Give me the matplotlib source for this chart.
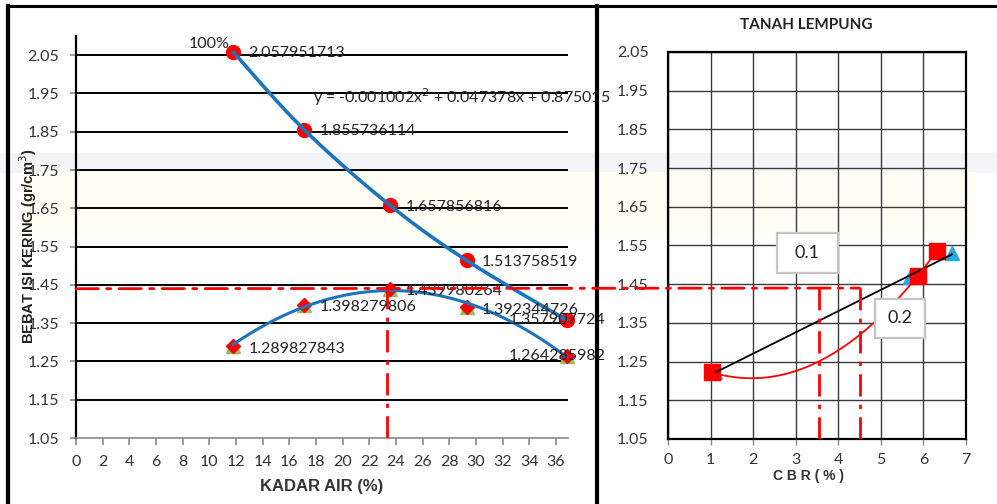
import numpy as np
import matplotlib
matplotlib.use("Agg")
import matplotlib.pyplot as plt
from matplotlib.patches import Rectangle, ConnectionPatch
from matplotlib.lines import Line2D

plt.rcParams['font.family'] = ['Lato', 'DejaVu Sans']

# ---------------- data ----------------
kadar_air = [11.8, 17.1, 23.55, 29.3, 36.8]
zav_100 = [2.057951713, 1.855736114, 1.657856816, 1.513758519, 1.357907724]
zav_labels = ["2.057951713", "1.855736114", "1.657856816", "1.513758519", "1.357907724"]
berat_isi = [1.289827843, 1.398279806, 1.439980264, 1.392344726, 1.264285982]
berat_labels = ["1.289827843", "1.398279806", "1.439980264", "1.392344726", "1.264285982"]
poly_coef = [-0.001002, 0.047378, 0.875015]
equation = "y = -0.001002x$^2$ + 0.047378x + 0.875015"

gamma_max = 1.44
w_opt = 23.3

cbr_01_x = [1.1, 5.68, 6.67]
cbr_01_y = [1.222, 1.469, 1.53]
cbr_02_x = [1.03, 5.87, 6.31]
cbr_02_y = [1.222, 1.472, 1.535]
cbr_read = [3.55, 4.5]

yticks = [1.05, 1.15, 1.25, 1.35, 1.45, 1.55, 1.65, 1.75, 1.85, 1.95, 2.05]
xticks_left = list(range(0, 37, 2))
xticks_right = list(range(0, 8))

W, H = 997, 504
fig = plt.figure(figsize=(W / 100, H / 100), dpi=100)

def fx(px):
    return px / W

def fy(py):
    return 1 - py / H

# faint watermark-like background bands
fig.patches.append(Rectangle((0, fy(172)), 1, (172 - 153) / H, transform=fig.transFigure,
                             color='#f5f5f7', zorder=-10))
fig.patches.append(Rectangle((fx(22), fy(232)), fx(975 - 22), (232 - 172) / H,
                             transform=fig.transFigure, color='#fffef5', zorder=-10))

# ---------------- left axes ----------------
ax1 = fig.add_axes([fx(76), fy(438), fx(568 - 76), (438 - 36) / H])
ax1.set_facecolor('none')
ax1.set_xlim(0, 36.9)
ax1.set_ylim(1.05, 2.10)
ax1.set_yticks(yticks)
ax1.set_yticklabels([f"{v:.2f}" for v in yticks])
ax1.set_xticks(xticks_left)
for y in yticks[1:]:
    ax1.axhline(y, color='black', lw=1.4, zorder=1)
ax1.spines['top'].set_visible(False)
ax1.spines['right'].set_visible(False)
ax1.spines['left'].set_color('black')
ax1.spines['left'].set_linewidth(1.6)
ax1.spines['bottom'].set_color('#8a8a8a')
ax1.spines['bottom'].set_linewidth(1.2)
ax1.tick_params(axis='x', colors='#8a8a8a', length=5, width=1.2, labelsize=11.5,
                labelcolor='#333333', pad=7)
ax1.tick_params(axis='y', colors='#8a8a8a', length=4, width=1.2, labelsize=11.5,
                labelcolor='#333333', pad=8)

# smoothed line (Catmull-Rom like Excel)
def smooth(xs, ys, n=30):
    P = np.column_stack([xs, ys]).astype(float)
    P = np.vstack([P[0], P, P[-1]])
    out = []
    for i in range(1, len(P) - 2):
        p0, p1, p2, p3 = P[i - 1], P[i], P[i + 1], P[i + 2]
        c1 = p1 + (p2 - p0) / 6
        c2 = p2 - (p3 - p1) / 6
        t = np.linspace(0, 1, n)[:, None]
        seg = (1 - t) ** 3 * p1 + 3 * (1 - t) ** 2 * t * c1 + 3 * (1 - t) * t ** 2 * c2 + t ** 3 * p2
        out.append(seg)
    out = np.vstack(out)
    return out[:, 0], out[:, 1]

sx, sy = smooth(kadar_air, zav_100)
ax1.plot(sx, sy, color='#1c75bc', lw=2.6, zorder=4, solid_capstyle='round', clip_on=False)
ax1.plot(kadar_air, zav_100, 'o', color='#ff0000', ms=10, zorder=3, clip_on=False)

xp = np.linspace(min(kadar_air), max(kadar_air), 200)
ax1.plot(xp, np.polyval(poly_coef, xp), color='#1c75bc', lw=2.2, zorder=4, clip_on=False)
ax1.plot(kadar_air, berat_isi, '^', color='#9bbb59', ms=10, zorder=3, clip_on=False)
ax1.plot(kadar_air, berat_isi, 'D', color='#ff0000', ms=7, zorder=3, clip_on=False)

lbl_font = dict(fontsize=11.5, color='#222222', va='center', zorder=6)
for i, (x, y, t) in enumerate(zip(kadar_air, zav_100, zav_labels)):
    if i == len(kadar_air) - 1:
        ax1.annotate(t, (x, y), xytext=(28, 0), textcoords='offset points', ha='right', **lbl_font)
    else:
        ax1.annotate(t, (x, y), xytext=(11, -1), textcoords='offset points', ha='left', **lbl_font)
for i, (x, y, t) in enumerate(zip(kadar_air, berat_isi, berat_labels)):
    if i == len(kadar_air) - 1:
        ax1.annotate(t, (x, y), xytext=(28, 0), textcoords='offset points', ha='right', **lbl_font)
    else:
        ax1.annotate(t, (x, y), xytext=(11, -2), textcoords='offset points', ha='left', **lbl_font)
ax1.annotate("100%", (kadar_air[0], zav_100[0]), xytext=(-3, 6), textcoords='offset points',
             ha='right', va='center', fontsize=11.5, color='#222222')
ax1.text(17.8, 1.94, equation, fontsize=11.5, color='#222222', va='center', ha='left', zorder=6)

# red guide lines
red_kw = dict(color='#ff0000', lw=2.0, linestyle=(0, (8, 3, 1.5, 3)))
ax1.plot([w_opt, w_opt], [1.05, gamma_max], zorder=5, **red_kw)

# ---------------- right axes ----------------
ax2 = fig.add_axes([fx(668), fy(439), fx(966 - 668), (439 - 52) / H])
ax2.set_facecolor('none')
ax2.set_xlim(0, 7)
ax2.set_ylim(1.05, 2.05)
ax2.set_xticks(xticks_right)
ax2.set_yticks(yticks)
ax2.set_yticklabels([f"{v:.2f}" for v in yticks])
ax2.grid(True, color='#3a3a3a', lw=1.0, zorder=0)
for s in ax2.spines.values():
    s.set_color('black')
    s.set_linewidth(1.6)
ax2.tick_params(axis='both', colors='#8a8a8a', length=4, width=1.0, labelsize=11.5,
                labelcolor='#333333')
ax2.tick_params(axis='y', length=0, pad=14)
ax2.tick_params(axis='x', pad=6)
ax2.set_axisbelow(True)

lx = np.linspace(min(cbr_01_x), max(cbr_01_x), 50)
ax2.plot(lx, np.polyval(np.polyfit(cbr_01_x, cbr_01_y, 1), lx), color='black', lw=1.3, zorder=4)
qx = np.linspace(min(cbr_02_x), max(cbr_02_x), 200)
ax2.plot(qx, np.polyval(np.polyfit(cbr_02_x, cbr_02_y, 2), qx), color='#ff0000', lw=1.3, zorder=4)
ax2.plot(cbr_01_x, cbr_01_y, '^', color='#29a8e0', ms=10, zorder=3)
ax2.plot(cbr_02_x, cbr_02_y, 's', color='#ff0000', ms=11, zorder=3)

for cx in cbr_read:
    ax2.plot([cx, cx], [1.05, gamma_max], zorder=5, **red_kw)

con = ConnectionPatch(xyA=(0, gamma_max), coordsA=ax1.transData,
                      xyB=(cbr_read[1], gamma_max), coordsB=ax2.transData, zorder=5, **red_kw)
fig.add_artist(con)

# label boxes
def box(x0, x1, y0, y1, text):
    ax2.add_patch(Rectangle((x0, y0), x1 - x0, y1 - y0, facecolor='white', edgecolor='#c4c4c4',
                            lw=1.6, zorder=7))
    ax2.text((x0 + x1) / 2, (y0 + y1) / 2, text, ha='center', va='center', fontsize=13,
             color='#222222', zorder=8)

box(2.56, 3.99, 1.48, 1.582, "0.1")
box(4.86, 6.03, 1.31, 1.413, "0.2")

# titles and labels
fig.text(fx(806), fy(25), "TANAH LEMPUNG", ha='center', va='center', fontsize=11,
         fontweight='bold', color='#222222')
fig.text(fx(808), fy(476), "C B R ( % )", ha='center', va='center', fontsize=10,
         fontweight='bold', color='#333333', family=['Liberation Sans', 'DejaVu Sans'])
fig.text(fx(322), fy(486), "KADAR AIR (%)", ha='center', va='center', fontsize=12,
         fontweight='bold', color='#333333', family=['Liberation Sans', 'DejaVu Sans'])
fig.text(fx(28), fy(246), "BEBAT ISI KERING (gr/cm$^3$)", ha='center', va='center',
         rotation=90, fontsize=10.5, fontweight='bold', color='#222222',
         family=['Liberation Sans', 'DejaVu Sans'])

# frame lines
fig.add_artist(Line2D([fx(8), fx(8)], [fy(6), 0], transform=fig.transFigure, color='black', lw=3))
fig.add_artist(Line2D([fx(597), fx(597)], [fy(6), 0], transform=fig.transFigure, color='black', lw=3))
fig.add_artist(Line2D([fx(8), 1], [fy(6), fy(6)], transform=fig.transFigure, color='black', lw=2.2))

fig.savefig("out.png", dpi=100)
